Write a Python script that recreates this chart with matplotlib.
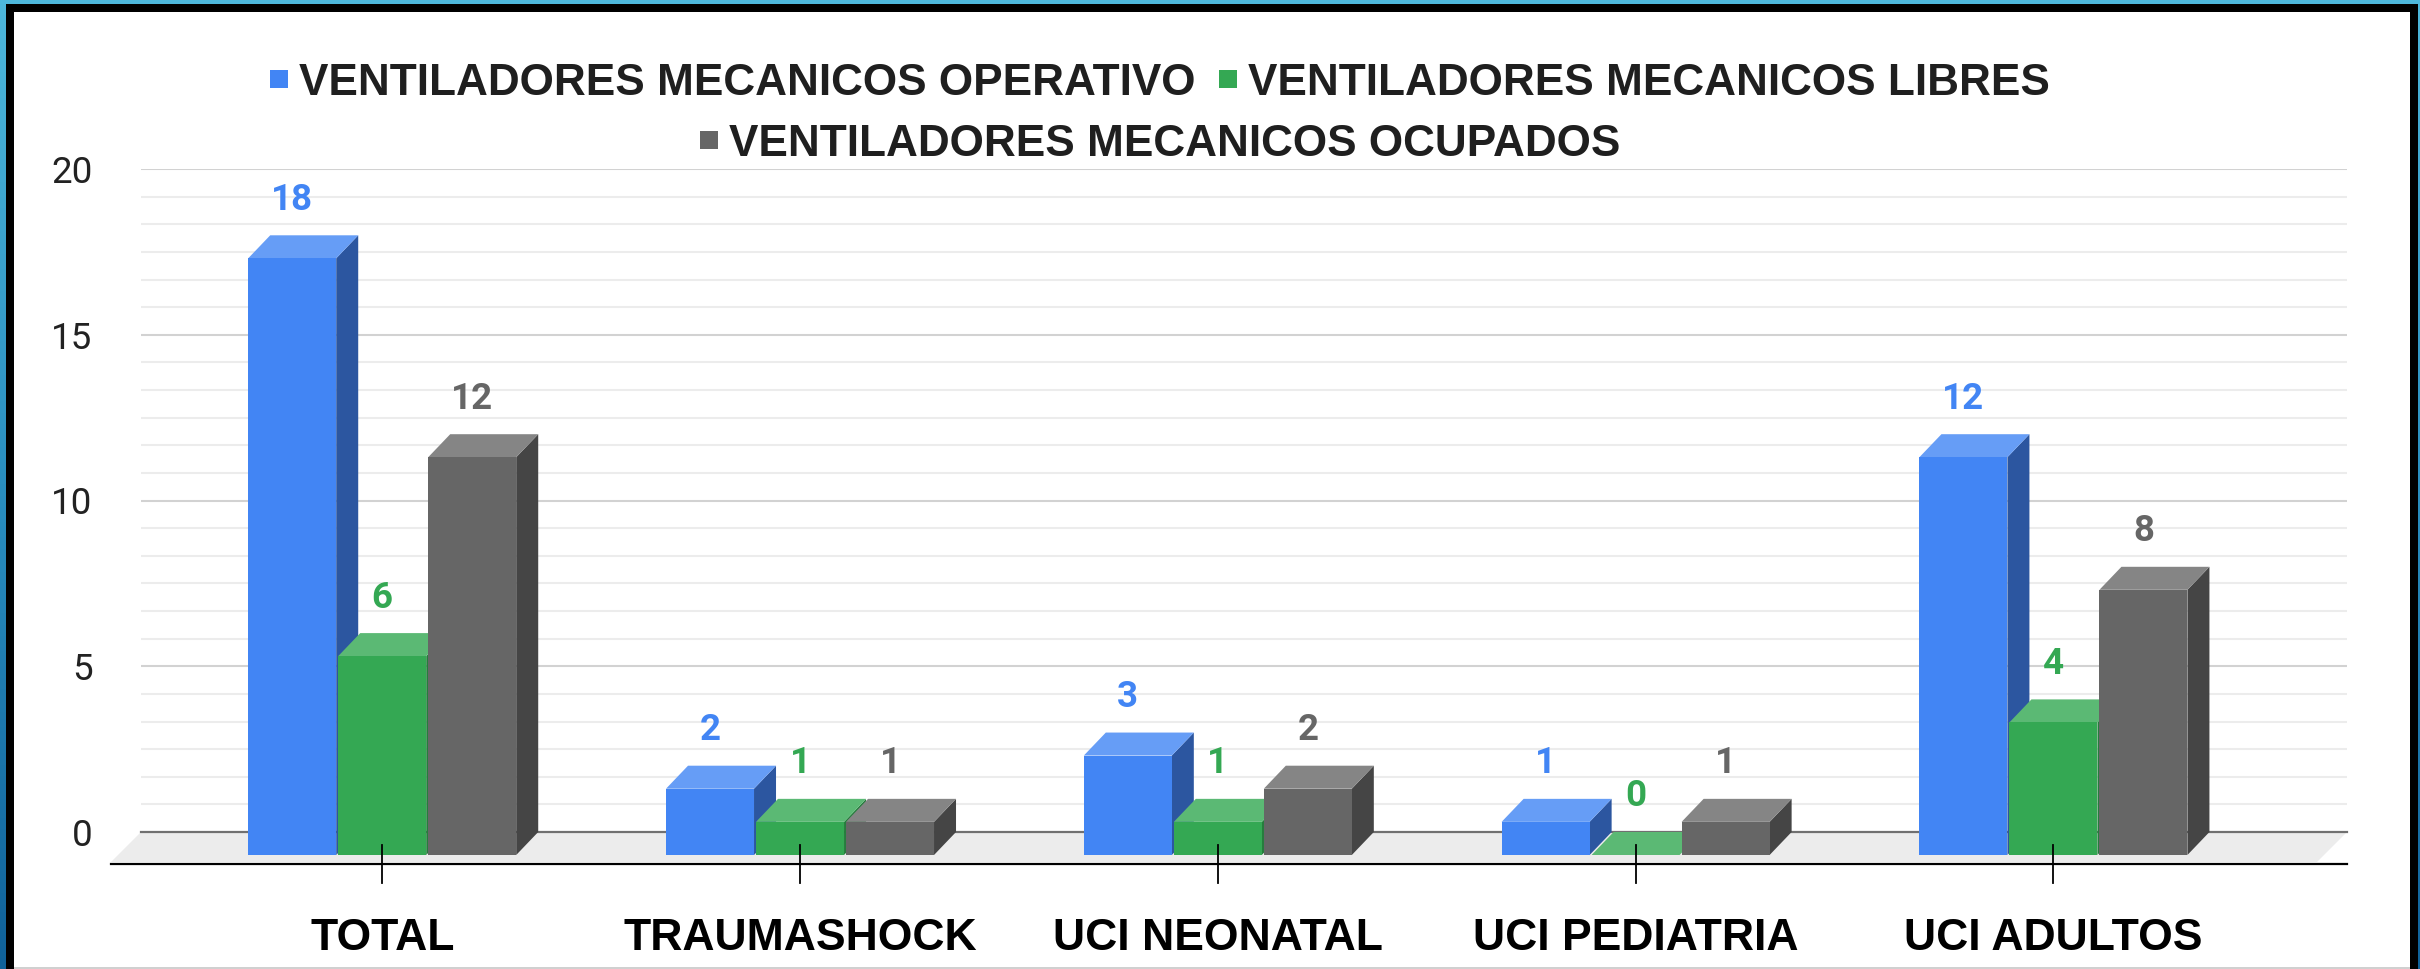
import matplotlib
matplotlib.use('Agg')
import matplotlib.pyplot as plt
from matplotlib.patches import Polygon, Rectangle
from matplotlib.colors import LinearSegmentedColormap
import numpy as np

# data
categories = ['TOTAL', 'TRAUMASHOCK', 'UCI NEONATAL', 'UCI PEDIATRIA', 'UCI ADULTOS']
operativo = [18, 2, 3, 1, 12]
libres = [6, 1, 1, 0, 4]
ocupados = [12, 1, 2, 1, 8]
series_names = ['VENTILADORES MECANICOS OPERATIVO',
                'VENTILADORES MECANICOS LIBRES',
                'VENTILADORES MECANICOS OCUPADOS']
y_ticks = [0, 5, 10, 15, 20]

# colours: front, top, side
front_cols = ['#4285f4', '#34a853', '#666666']
top_cols = ['#669df6', '#5bb974', '#858585']
side_cols = ['#2c56a0', '#267d3d', '#454545']

W, H = 2420, 969
fig = plt.figure(figsize=(W / 100, H / 100), dpi=100)

# background + frame, drawn in pixel coords
bg = fig.add_axes([0, 0, 1, 1])
bg.set_xlim(0, W)
bg.set_ylim(H, 0)
bg.axis('off')
cmap = LinearSegmentedColormap.from_list('bg', ['#4db7db', '#2a8fc0', '#10629a'])
bg.imshow(np.linspace(0, 1, 256).reshape(-1, 1), aspect='auto', cmap=cmap,
          extent=[0, W, H, 0])
bg.add_patch(Rectangle((6, 4), 2412, H, color='black', lw=0))
bg.add_patch(Rectangle((14, 12), 2396, 955, color='white', lw=0))
bg.add_patch(Rectangle((14, 967), 2396, 2, color='#d0d0d0', lw=0))

# main axes: back plane of the 3d chart
ax = fig.add_axes([141 / W, 1 - 832 / H, (2347 - 141) / W, (832 - 169) / H])
ax.set_xlim(-0.63, 4.65)
ax.set_ylim(0, 20)
ax.set_facecolor('none')
for s in ax.spines.values():
    s.set_visible(False)

px_x = (4.65 + 0.63) / (2347 - 141)   # data units per pixel
px_y = 20 / (832 - 169)
ddx, ddy = 22 * px_x, 23 * px_y       # bar depth
fdx, fdy = 30 * px_x, 30 * px_y       # floor depth
step = 90 * px_x
bw = 88 * px_x

# gridlines
for v in np.arange(0, 20.01, 5 / 6):
    if abs(v) < 1e-6:
        continue
    major = abs(v / 5 - round(v / 5)) < 1e-6
    ax.axhline(v, color='#d2d2d2' if major else '#ececec', lw=1.5, zorder=0.5)

# floor
x0, x1 = ax.get_xlim()
ax.add_patch(Polygon([(x0, 0), (x1, 0), (x1 - fdx, -fdy), (x0 - fdx, -fdy)],
                     closed=True, color='#ececec', lw=0, clip_on=False, zorder=1))
ax.plot([x0, x1], [0, 0], color='#707070', lw=1.6, zorder=1.5, clip_on=False)
ax.plot([x0 - fdx, x1], [-fdy - 2 * px_y, -fdy - 2 * px_y], color='black', lw=1.6,
        zorder=1.5, clip_on=False)


def bar3d(xc, v, k):
    bx0, bx1 = xc - bw / 2, xc + bw / 2
    fx0, fx1 = bx0 - ddx, bx1 - ddx
    z = 3 + k * 0.1
    ax.add_patch(Polygon([(fx1, -ddy), (bx1, 0), (bx1, v), (fx1, v - ddy)],
                         color=side_cols[k], lw=0, clip_on=False, zorder=z))
    ax.add_patch(Polygon([(fx0, v - ddy), (fx1, v - ddy), (bx1, v), (bx0, v)],
                         color=top_cols[k], lw=0, clip_on=False, zorder=z))
    if v > 0:
        ax.add_patch(Rectangle((fx0, -ddy), bw, v, color=front_cols[k], lw=0,
                               clip_on=False, zorder=z))


series = [operativo, libres, ocupados]
for i in range(len(categories)):
    for k, vals in enumerate(series):
        xc = i + (k - 1) * step
        bar3d(xc, vals[i], k)
        ax.text(xc - ddx, vals[i] + 0.77, str(vals[i]), ha='center', va='baseline',
                fontsize=26.5, fontweight='bold', family='Roboto',
                color=front_cols[k], zorder=20)
    # tick mark and label at the front centre
    xf = i - ddx
    ax.plot([xf, xf], [-13 * px_y, -51 * px_y], color='black', lw=1.3,
            zorder=20, clip_on=False)
    ax.text(xf, -118 * px_y, categories[i], ha='center', va='baseline',
            fontsize=32, fontweight='bold', family='Liberation Sans', color='black')

ax.set_xticks([])
ax.set_yticks(y_ticks)
ax.set_yticklabels([str(t) for t in y_ticks], family='Roboto')
ax.tick_params(axis='y', length=0, pad=35, labelsize=26.5, labelcolor='#222222')

# legend, laid out by hand: two items on the first row, one on the second
renderer = fig.canvas.get_renderer()
rows = [([0, 1], 95), ([2], 156)]
sq, gap_in, gap_out = 18, 11, 24
for idx, base in rows:
    txts = [bg.text(0, base, series_names[k], ha='left', va='baseline', fontsize=31.8,
                    fontweight='bold', family='Liberation Sans', color='#1f1f1f')
            for k in idx]
    widths = [t.get_window_extent(renderer).width for t in txts]
    total = sum(sq + gap_in + w for w in widths) + gap_out * (len(idx) - 1)
    x = 1160 - total / 2
    for k, t, w in zip(idx, txts, widths):
        bg.add_patch(Rectangle((x, base - 16 - sq / 2), sq, sq, color=front_cols[k], lw=0))
        t.set_x(x + sq + gap_in)
        x += sq + gap_in + w + gap_out

fig.savefig('out.png', dpi=100)
